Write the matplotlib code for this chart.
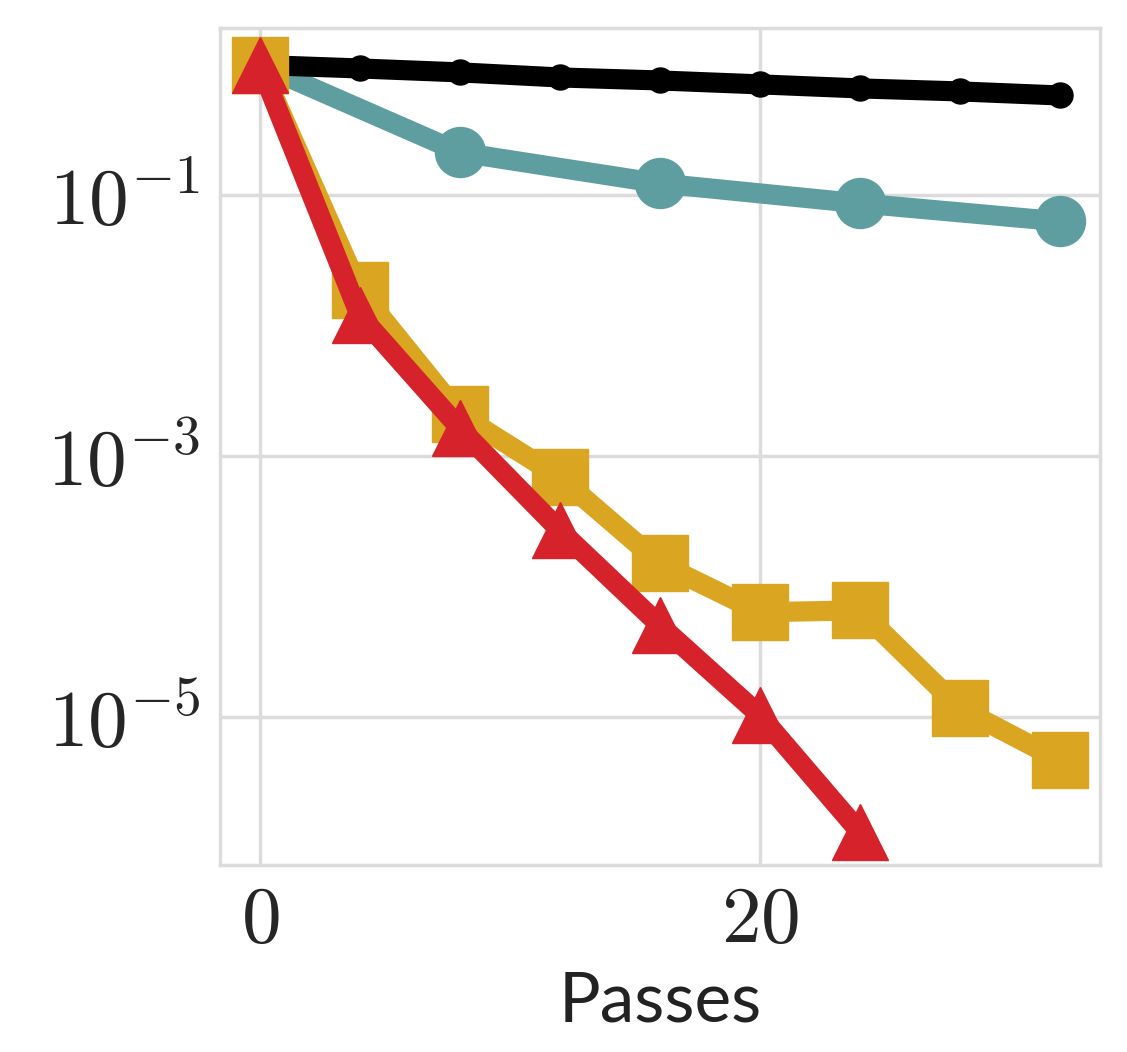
import numpy as np
import matplotlib
matplotlib.use("Agg")
import matplotlib.pyplot as plt
import seaborn as sns

sns.set_style("whitegrid")
plt.rcParams["mathtext.fontset"] = "cm"
plt.rcParams["font.family"] = ["Lato", "DejaVu Sans"]

# residual per pass for each method (log10 of the value)
passes_fine = [0, 4, 8, 12, 16, 20, 24, 28, 32]
passes_coarse = [0, 8, 16, 24, 32]
passes_red = [0, 4, 8, 12, 16, 20, 24]

black_log = [0.0, -0.027, -0.057, -0.096, -0.119, -0.149, -0.18, -0.203, -0.234]
teal_log = [0.0, -0.67, -0.908, -1.061, -1.199]
gold_log = [0.0, -1.728, -2.678, -3.161, -3.82, -4.195, -4.18, -4.93, -5.33]
red_log = [0.0, -1.92, -2.785, -3.567, -4.295, -4.985, -5.88]

black_y = 10 ** np.array(black_log)
teal_y = 10 ** np.array(teal_log)
gold_y = 10 ** np.array(gold_log)
red_y = 10 ** np.array(red_log)

fig = plt.figure(figsize=(11.27, 10.52), dpi=100)
ax = fig.add_axes([0.195, 0.178, 0.781, 0.795])

lw = 14.5
ax.plot(passes_coarse, teal_y, color="cadetblue", lw=lw, marker="o", ms=36, zorder=2)
ax.plot(passes_fine, black_y, color="black", lw=lw, marker="o", ms=18, zorder=3)
ax.plot(passes_fine, gold_y, color="goldenrod", lw=lw, marker="s", ms=40, zorder=4)
ax.plot(passes_red, red_y, color="#d6222a", lw=lw, marker="^", ms=40, zorder=5)

ax.set_yscale("log")
ax.set_xlim(-1.6, 33.6)
ax.set_ylim(10 ** -6.13, 10 ** 0.28)
ax.set_xticks([0, 20])
ax.set_xticklabels([r"$0$", r"$20$"])
ax.set_yticks([1e-1, 1e-3, 1e-5])
ax.set_yticklabels([r"$10^{-1}$", r"$10^{-3}$", r"$10^{-5}$"])
ax.minorticks_off()
ax.tick_params(labelsize=57, length=0, pad=14)

ax.grid(True, color="#dcdcdc", lw=2.5)
for s in ax.spines.values():
    s.set_color("#dcdcdc")
    s.set_linewidth(2.5)

ax.set_xlabel("Passes", fontsize=50, color="#222222", labelpad=10)

fig.savefig("out.png", dpi=100)
